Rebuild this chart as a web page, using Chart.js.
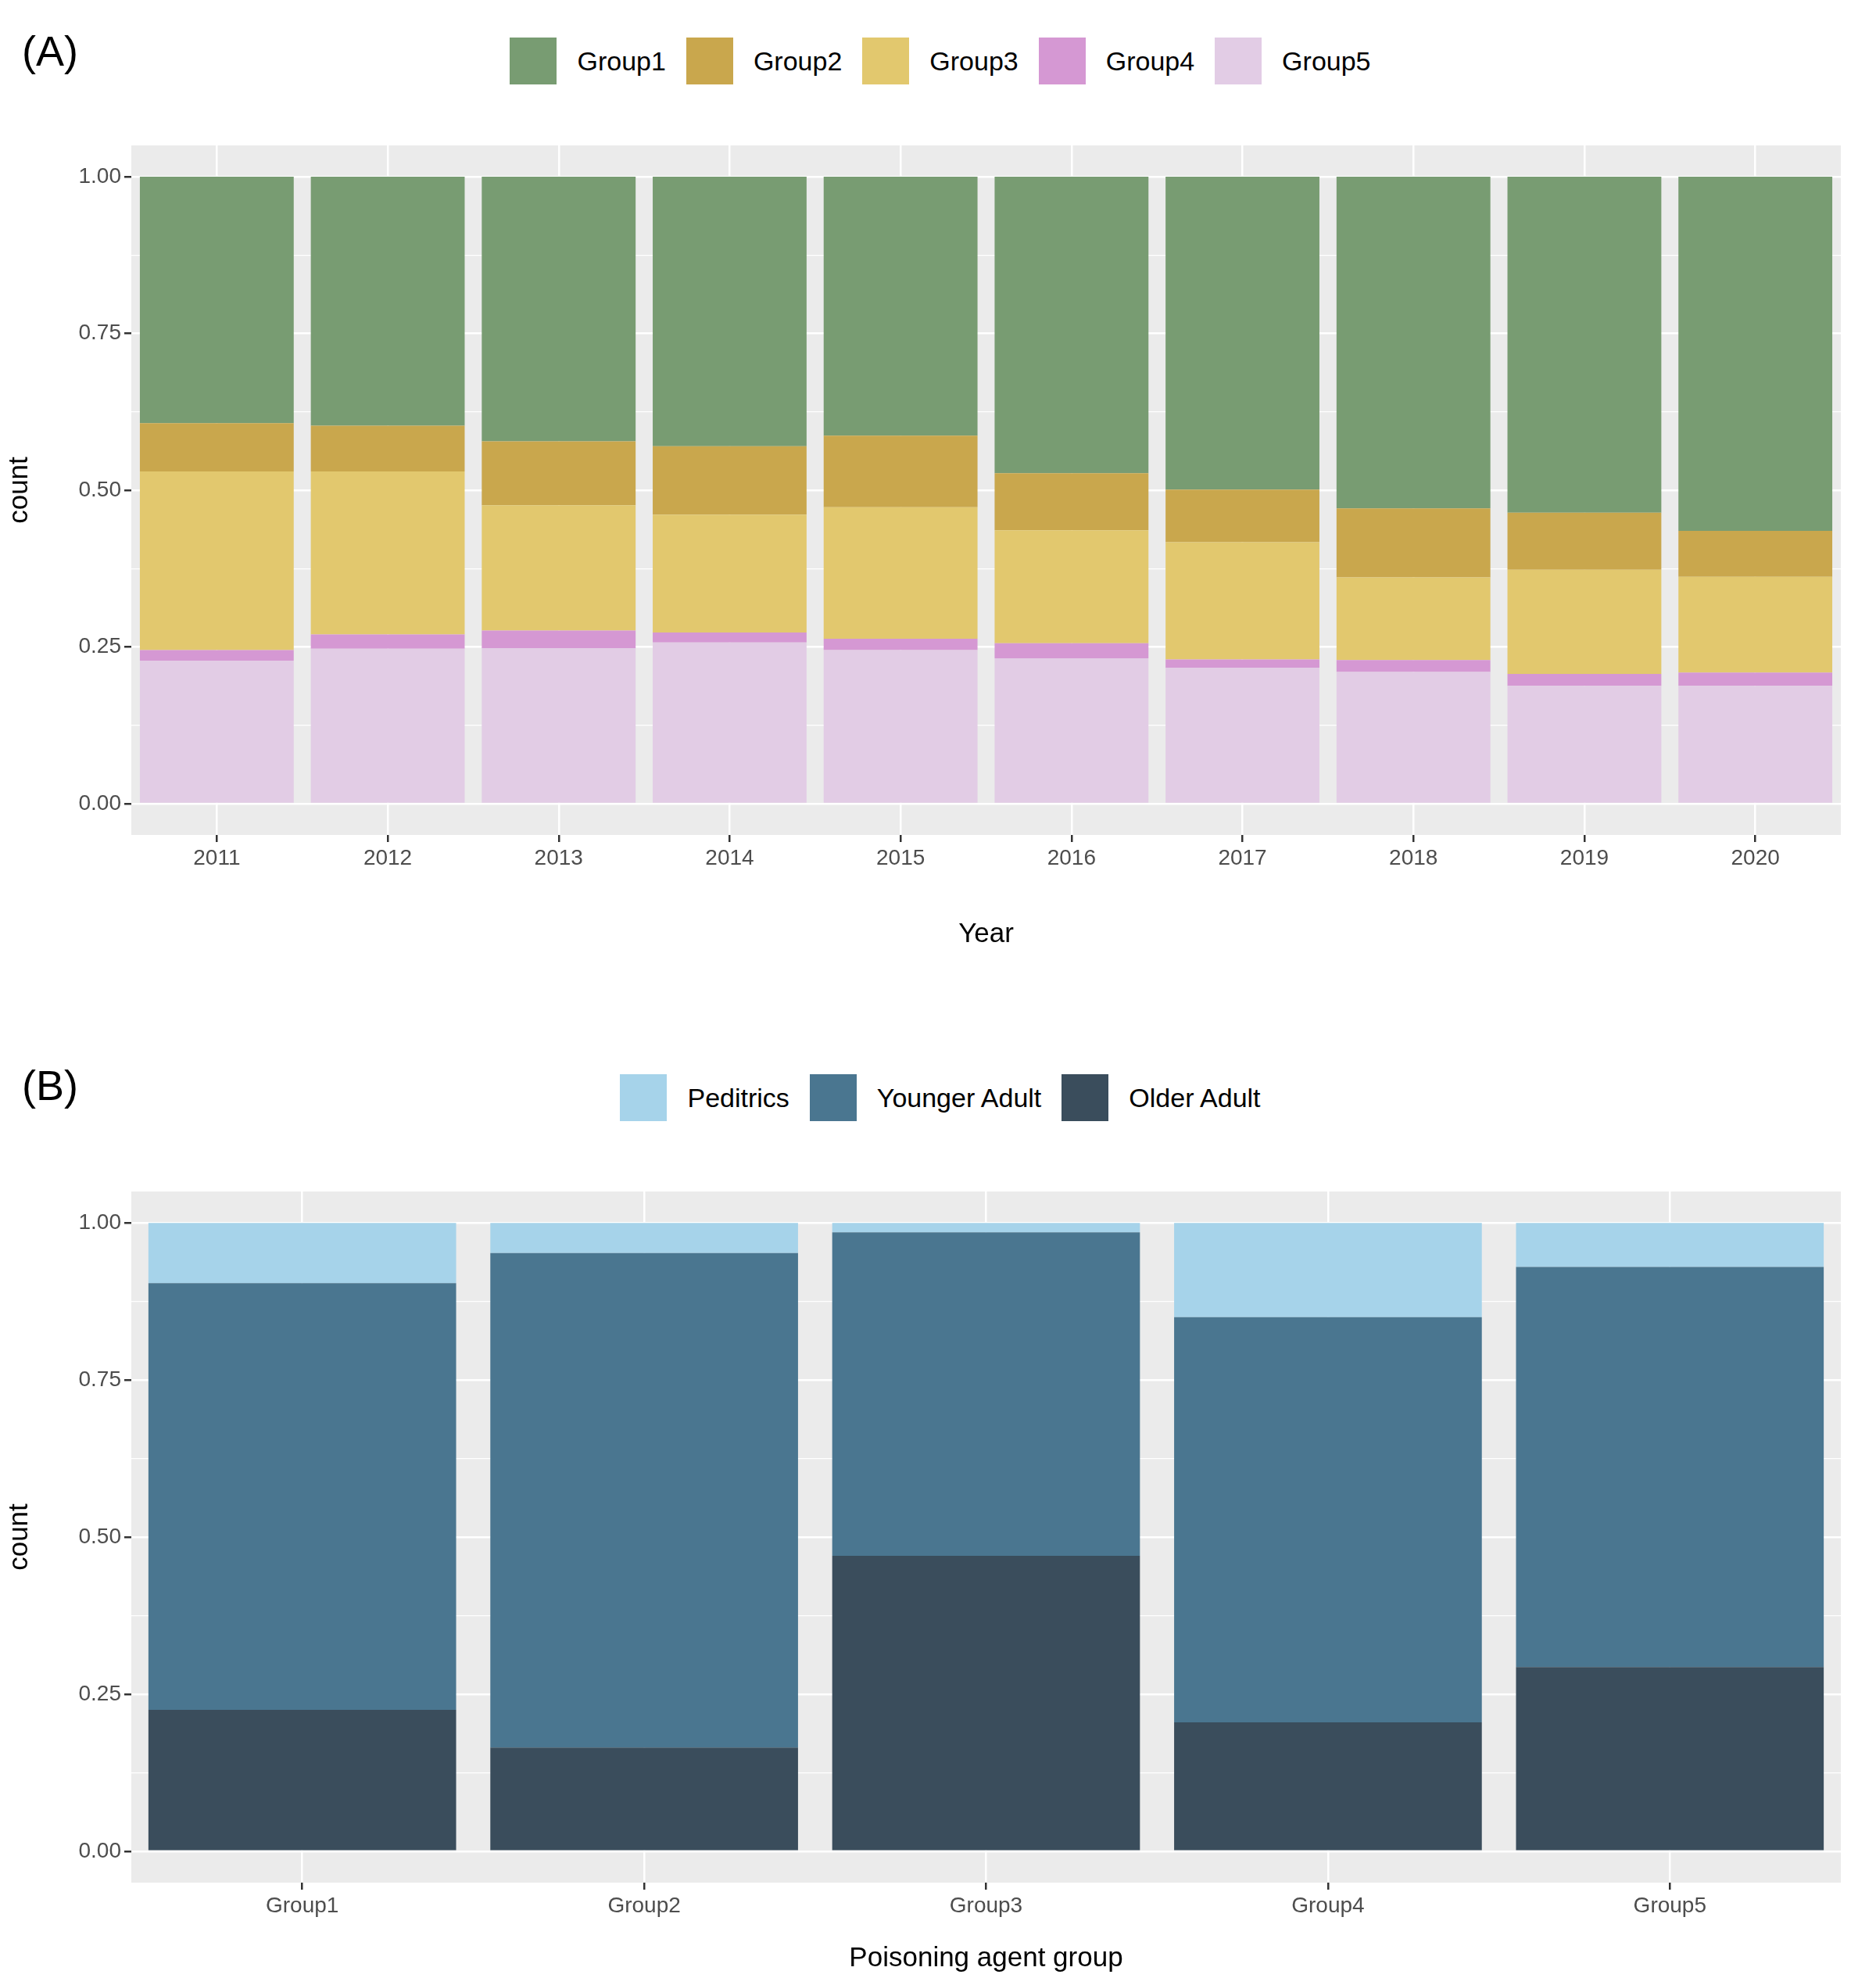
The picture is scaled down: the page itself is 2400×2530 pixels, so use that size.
<!DOCTYPE html>
<html><head><meta charset="utf-8">
<script src="https://cdn.jsdelivr.net/npm/chart.js@4"></script>
<style>
body{margin:0;width:2400px;height:2530px;background:#fff;font-family:"Liberation Sans",Arial,sans-serif;position:relative;overflow:hidden}
.tag{position:absolute;font-size:54px;left:28px}
.leg{position:absolute;left:0;width:2400px;display:flex;justify-content:center;align-items:center;font-size:34px;color:#000}
.leg span.k{display:inline-block;width:64px;height:64px;margin:0 24px 0 14px;box-sizing:border-box;border:2px solid #fff}
.leg span.t{margin-right:10px}
canvas{position:absolute;left:0}
</style></head><body>
<div class="tag" style="top:34px">(A)</div>
<div class="tag" style="top:1357px">(B)</div>
<div class="leg" id="legA" style="top:46px"></div>
<div class="leg" id="legB" style="top:1372px"></div>
<canvas id="cA" width="2400" height="1060" style="top:160px"></canvas>
<canvas id="cB" width="2400" height="1032" style="top:1498px"></canvas>
<script>
const years=['2011','2012','2013','2014','2015','2016','2017','2018','2019','2020'];
const group1=[0.393,0.397,0.422,0.430,0.413,0.473,0.499,0.529,0.536,0.565];
const group2=[0.077,0.073,0.102,0.109,0.114,0.091,0.084,0.110,0.091,0.073];
const group3=[0.285,0.260,0.200,0.188,0.210,0.180,0.187,0.132,0.166,0.153];
const group4=[0.017,0.023,0.028,0.016,0.018,0.024,0.013,0.019,0.019,0.021];
const group5=[0.228,0.247,0.248,0.257,0.245,0.232,0.217,0.210,0.188,0.188];
const agentGroups=['Group1','Group2','Group3','Group4','Group5'];
const peditrics=[0.096,0.048,0.015,0.150,0.070];
const youngerAdult=[0.679,0.787,0.515,0.645,0.637];
const olderAdult=[0.225,0.165,0.470,0.205,0.293];

const colA={Group1:'#789C72',Group2:'#C9A74D',Group3:'#E2C86E',Group4:'#D598D3',Group5:'#E2CCE5'};
const colB={'Peditrics':'#A6D3EA','Younger Adult':'#4A7690','Older Adult':'#3A4D5C'};
function legend(id,cols){const el=document.getElementById(id);for(const[k,c]of Object.entries(cols)){el.innerHTML+=`<span class="k" style="background:${c}"></span><span class="t">${k}</span>`;}}
legend('legA',colA);legend('legB',colB);

const bgPlugin={id:'bg',beforeDraw(c){const a=c.chartArea,x=c.ctx;x.save();x.fillStyle='#EBEBEB';x.fillRect(a.left,a.top,a.right-a.left,a.bottom-a.top);x.restore();}};
Chart.defaults.font.family='"Liberation Sans", Arial, sans-serif';
Chart.defaults.animation=false;
function make(id,labels,datasets,xTitle,xH){
  return new Chart(document.getElementById(id),{type:'bar',data:{labels,datasets},plugins:[bgPlugin],
   options:{responsive:false,devicePixelRatio:1,layout:{padding:{top:26,right:45}},
    plugins:{legend:{display:false},tooltip:{enabled:false}},
    datasets:{bar:{barPercentage:0.9,categoryPercentage:1}},
    scales:{
     x:{stacked:true,offset:true,grid:{offset:false,color:'#fff',lineWidth:2.5,tickLength:9,tickColor:'#333',drawOnChartArea:true},border:{display:false},
        ticks:{color:'#4D4D4D',font:{size:28},padding:4},
        title:{display:true,text:xTitle,color:'#000',font:{size:35},padding:{top:2}},
        afterFit(s){s.height=xH;}},
     y:{stacked:true,min:-0.05,max:1.05,border:{display:false},
        afterBuildTicks(s){s.ticks=[0,0.125,0.25,0.375,0.5,0.625,0.75,0.875,1].map(v=>({value:v}));},
        grid:{color:'#fff',lineWidth:c=>(c.tick&&Math.round(c.tick.value*1000)%250===0)?2.5:1.2,
              tickLength:9,tickColor:c=>(c.tick&&Math.round(c.tick.value*1000)%250===0)?'#333':'rgba(0,0,0,0)'},
        ticks:{color:'#4D4D4D',font:{size:28},padding:4,autoSkip:false,callback:v=>(Math.round(v*1000)%250===0)?v.toFixed(2):''},
        title:{display:true,text:'count',color:'#000',font:{size:35},padding:{bottom:6}},
        afterFit(s){s.width=168;}}}}});
}
make('cA',years,[
 {label:'Group5',data:group5,backgroundColor:colA.Group5},
 {label:'Group4',data:group4,backgroundColor:colA.Group4},
 {label:'Group3',data:group3,backgroundColor:colA.Group3},
 {label:'Group2',data:group2,backgroundColor:colA.Group2},
 {label:'Group1',data:group1,backgroundColor:colA.Group1}],'Year',152);
make('cB',agentGroups,[
 {label:'Older Adult',data:olderAdult,backgroundColor:colB['Older Adult']},
 {label:'Younger Adult',data:youngerAdult,backgroundColor:colB['Younger Adult']},
 {label:'Peditrics',data:peditrics,backgroundColor:colB['Peditrics']}],'Poisoning agent group',122);
</script></body></html>
